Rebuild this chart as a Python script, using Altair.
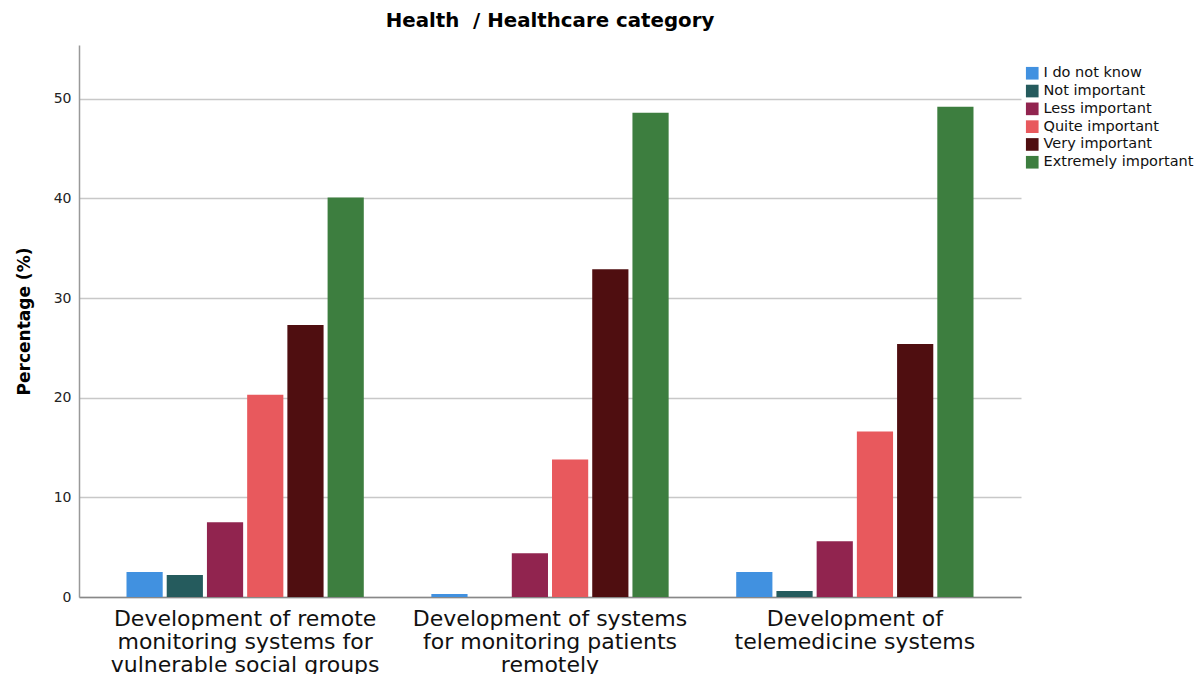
import altair as alt
import pandas as pd

categories = [
    "Development of remote\nmonitoring systems for\nvulnerable social groups",
    "Development of systems\nfor monitoring patients\nremotely",
    "Development of\ntelemedicine systems",
]
levels = ["I do not know", "Not important", "Less important",
          "Quite important", "Very important", "Extremely important"]
colors = ["#4191E0", "#255B5D", "#91244F", "#E8595D", "#4F0E10", "#3D7E3F"]

dont_know = [2.5, 0.3, 2.5]
not_important = [2.2, 0.0, 0.6]
less_important = [7.5, 4.4, 5.6]
quite_important = [20.3, 13.8, 16.6]
very_important = [27.3, 32.9, 25.4]
extremely_important = [40.1, 48.6, 49.2]
series = [dont_know, not_important, less_important,
          quite_important, very_important, extremely_important]

rows = []
for lvl, vals in zip(levels, series):
    for c, v in zip(categories, vals):
        rows.append({"category": c, "level": lvl, "pct": v})
df = pd.DataFrame(rows)

FONT = "DejaVu Sans"

chart = alt.Chart(df).mark_bar().encode(
    x=alt.X("category:N", sort=categories,
            scale=alt.Scale(paddingInner=0, paddingOuter=0.045),
            axis=alt.Axis(title=None, labelAngle=0,
                          labelExpr="split(datum.label, '\\n')",
                          labelFontSize=22, labelLineHeight=23,
                          labelColor="#111", labelFont=FONT,
                          labelOverlap=False, labelLimit=0,
                          domainColor="#888", domainWidth=1.5,
                          ticks=False, labelPadding=11)),
    xOffset=alt.XOffset("level:N", sort=levels,
                        scale=alt.Scale(paddingInner=0.1, paddingOuter=0.84)),
    y=alt.Y("pct:Q", scale=alt.Scale(domain=[0, 55.4], nice=False),
            axis=alt.Axis(values=[0, 10, 20, 30, 40, 50],
                          title="Percentage (%)", titleFontSize=17,
                          titleFontWeight="bold", titleFont=FONT,
                          titleColor="black", titlePadding=20,
                          labelFontSize=14, labelFont=FONT,
                          labelColor="#222", labelPadding=8,
                          ticks=False, domainColor="#999", domainWidth=1.5,
                          gridColor="#c8c8c8", gridWidth=1.5)),
    color=alt.Color("level:N", sort=levels,
                    scale=alt.Scale(domain=levels, range=colors),
                    legend=alt.Legend(title=None, orient="none",
                                      legendX=946, legendY=21, padding=0,
                                      symbolType="square", symbolSize=160,
                                      symbolStrokeWidth=0,
                                      labelFontSize=14.5, labelFont=FONT,
                                      labelColor="#111", rowPadding=2.8,
                                      labelOffset=4)),
).properties(
    width=942, height=552,
    title=alt.TitleParams("Health\u00a0\u00a0/ Healthcare category", fontSize=19.8,
                          fontWeight="bold", font=FONT, color="black",
                          anchor="middle", offset=14),
    padding={"left": 7, "top": 3, "right": 0, "bottom": 0},
).configure_view(stroke=None)

chart.save("out.html", embed_options={"renderer": "svg", "actions": False})
